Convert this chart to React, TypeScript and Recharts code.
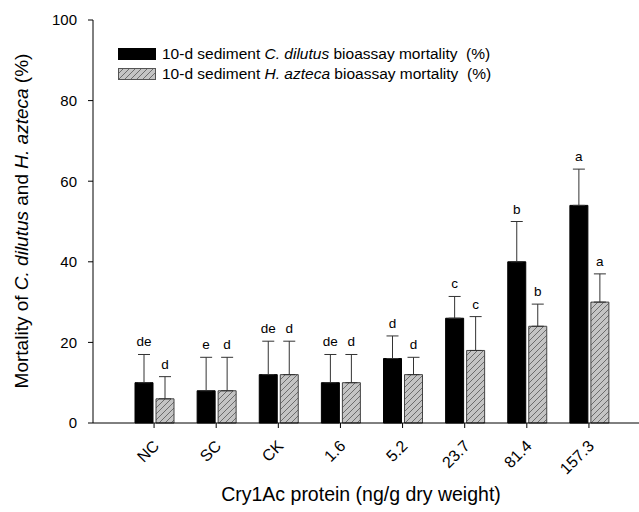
import { Bar, BarChart, ErrorBar, Label, LabelList, Legend, XAxis, YAxis } from "recharts";

const CATEGORIAS = ["NC", "SC", "CK", "1.6", "5.2", "23.7", "81.4", "157.3"];
const DILUTUS = [10, 8, 12, 10, 16, 26, 40, 54];
const DILUTUS_ERRO = [7, 8.3, 8.3, 7, 5.6, 5.4, 10, 9];
const DILUTUS_LETRAS = ["de", "e", "de", "de", "d", "c", "b", "a"];
const AZTECA = [6, 8, 12, 10, 12, 18, 24, 30];
const AZTECA_ERRO = [5.5, 8.3, 8.3, 7, 4.3, 8.4, 5.5, 7];
const AZTECA_LETRAS = ["d", "d", "d", "d", "d", "c", "b", "a"];
const Y_TICKS = [0, 20, 40, 60, 80, 100];

const FONTE = "'Liberation Sans', Arial, sans-serif";
const CINZA = "#c4c4c4";

const dados = CATEGORIAS.map((cat, i) => ({
  cat,
  dilutus: DILUTUS[i],
  dilutusErro: [0, DILUTUS_ERRO[i]],
  dilutusLetra: DILUTUS_LETRAS[i],
  azteca: AZTECA[i],
  aztecaErro: [0, AZTECA_ERRO[i]],
  aztecaLetra: AZTECA_LETRAS[i],
}));

/** Letra de significancia logo acima da barra de erro. */
function letra(valores: number[], erros: number[]) {
  return (props: any) => {
    const { x, y, width, height, value, index } = props;
    const v = valores[index];
    const pxPorUnidade = v ? height / v : 0;
    const topo = y - erros[index] * pxPorUnidade;
    return (
      <text
        x={x + width / 2}
        y={topo - 8}
        textAnchor="middle"
        fontFamily={FONTE}
        fontSize={13.5}
        fill="#000"
      >
        {value}
      </text>
    );
  };
}

function TickX({ x, y, payload }: any) {
  const ax = x + 6;
  const ay = y + 17;
  return (
    <text
      x={ax}
      y={ay}
      transform={`rotate(-45, ${ax}, ${ay})`}
      textAnchor="end"
      fontFamily={FONTE}
      fontSize={16}
      fill="#000"
    >
      {payload.value}
    </text>
  );
}

function Hachura({ id }: { id: string }) {
  return (
    <pattern id={id} patternUnits="userSpaceOnUse" width={6} height={6}>
      <rect width={6} height={6} fill={CINZA} />
      <path d="M0,6 L6,0 M-1,1 L1,-1 M5,7 L7,5" stroke="#555" strokeWidth={0.8} />
    </pattern>
  );
}

function Legenda() {
  const linha = (swatch: React.ReactNode, especie: string) => (
    <div style={{ display: "flex", alignItems: "center", height: 20 }}>
      <svg width={38} height={12} style={{ marginRight: 6 }}>
        {swatch}
      </svg>
      <span style={{ whiteSpace: "pre" }}>
        10-d sediment <i>{especie}</i> bioassay mortality  (%)
      </span>
    </div>
  );
  return (
    <div style={{ fontFamily: FONTE, fontSize: 15.5, color: "#000" }}>
      {linha(<rect x={0.5} y={0.5} width={37} height={11} fill="#000" stroke="#000" />, "C. dilutus")}
      {linha(
        <>
          <defs>
            <Hachura id="hachura-legenda" />
          </defs>
          <rect x={0.5} y={0.5} width={37} height={11} fill="url(#hachura-legenda)" stroke="#555" />
        </>,
        "H. azteca"
      )}
    </div>
  );
}

export default function App() {
  return (
    <div style={{ position: "absolute", left: 0, top: 0 }}>
      <BarChart
        width={639}
        height={512}
        data={dados}
        margin={{ top: 20, right: 0, bottom: 0, left: 0 }}
        barSize={18}
        barGap={3}
      >
        <defs>
          <Hachura id="hachura" />
        </defs>
        <XAxis
          dataKey="cat"
          height={89}
          padding={{ left: 30, right: 19 }}
          tick={<TickX />}
          tickSize={5}
          stroke="#000"
          interval={0}
        >
          <Label
            content={() => (
              <text x={361} y={501} textAnchor="middle" fontFamily={FONTE} fontSize={19.5} fill="#000">
                Cry1Ac protein (ng/g dry weight)
              </text>
            )}
          />
        </XAxis>
        <YAxis
          width={93}
          domain={[0, 100]}
          ticks={Y_TICKS}
          tickSize={5}
          tickMargin={11}
          stroke="#000"
          tick={{ fill: "#000", fontFamily: FONTE, fontSize: 15 }}
        >
          <Label
            content={() => (
              <text
                x={28}
                y={221}
                transform="rotate(-90, 28, 221)"
                textAnchor="middle"
                fontFamily={FONTE}
                fontSize={19}
                fill="#000"
              >
                Mortality of <tspan fontStyle="italic">C. dilutus</tspan> and{" "}
                <tspan fontStyle="italic">H. azteca</tspan> (%)
              </text>
            )}
          />
        </YAxis>
        <Legend
          layout="vertical"
          align="center"
          verticalAlign="middle"
          wrapperStyle={{ top: 44, left: 118, width: "auto" }}
          content={() => <Legenda />}
        />
        <Bar dataKey="dilutus" fill="#000" stroke="#000" isAnimationActive={false}>
          <ErrorBar dataKey="dilutusErro" width={6} stroke="#333" strokeWidth={1} direction="y" />
          <LabelList dataKey="dilutusLetra" content={letra(DILUTUS, DILUTUS_ERRO)} />
        </Bar>
        <Bar dataKey="azteca" fill="url(#hachura)" stroke="#444" isAnimationActive={false}>
          <ErrorBar dataKey="aztecaErro" width={6} stroke="#333" strokeWidth={1} direction="y" />
          <LabelList dataKey="aztecaLetra" content={letra(AZTECA, AZTECA_ERRO)} />
        </Bar>
      </BarChart>
    </div>
  );
}
